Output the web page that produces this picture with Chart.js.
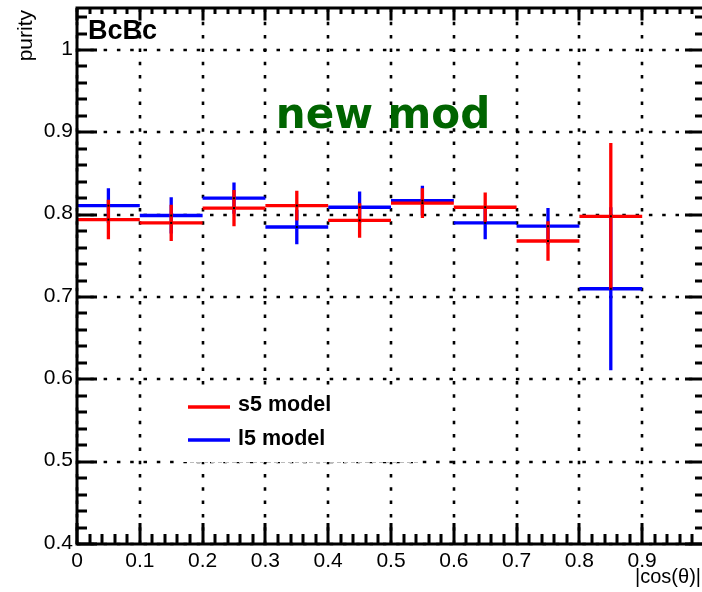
<!DOCTYPE html>
<html>
<head>
<meta charset="utf-8">
<script src="https://cdn.jsdelivr.net/npm/chart.js@4/dist/chart.umd.min.js"></script>
<style>
  html, body { margin: 0; padding: 0; background: #fff; overflow: hidden; }
  #wrap { width: 702px; height: 592px; overflow: hidden; }
</style>
</head>
<body>
<div id="wrap"><canvas id="purity-chart" width="708" height="592"></canvas></div>
<script>
/*
 * Bins of |cos(theta)| and the purity in each bin
 */
const binLow = [0, 0.1, 0.2, 0.3, 0.4, 0.5, 0.6, 0.7, 0.8]
const binHigh = [0.1, 0.2, 0.3, 0.4, 0.5, 0.6, 0.7, 0.8, 0.9]

const s5Purity = [0.794, 0.790, 0.808, 0.811, 0.793, 0.814, 0.809, 0.768, 0.798]
const s5Error = [0.024, 0.022, 0.022, 0.018, 0.021, 0.018, 0.018, 0.024, 0.089]
const l5Purity = [0.811, 0.799, 0.820, 0.785, 0.809, 0.817, 0.790, 0.786, 0.710]
const l5Error = [0.021, 0.022, 0.019, 0.021, 0.019, 0.018, 0.020, 0.022, 0.099]

// the "1" label of the x axis falls outside the picture
const xTickValues = [0, 0.1, 0.2, 0.3, 0.4, 0.5, 0.6, 0.7, 0.8, 0.9]
const xTickLabels = ['0', '0.1', '0.2', '0.3', '0.4', '0.5', '0.6', '0.7', '0.8', '0.9']
const yTickValues = [0.4, 0.5, 0.6, 0.7, 0.8, 0.9, 1]
const yTickLabels = ['0.4', '0.5', '0.6', '0.7', '0.8', '0.9', '1']

const seriesNames = ['s5 model', 'l5 model']
const seriesColors = ['#ff0000', '#0000ff']

const toPoints = (vals, errs) => vals.map((v, i) => ({
  x: (binLow[i] + binHigh[i]) / 2, y: v, xMin: binLow[i], xMax: binHigh[i], err: errs[i]
}))

/*
 * Dotted grid at every major tick
 */
const gridPlugin = {
  id: 'grid',
  beforeDatasetsDraw(chart) {
    const ctx = chart.ctx
    const a = chart.chartArea
    const x = chart.scales.x, y = chart.scales.y
    ctx.save()
    ctx.strokeStyle = '#000'
    ctx.lineWidth = 2.6
    ctx.setLineDash([3.5, 9.8])
    xTickValues.concat([1]).forEach(v => {
      const px = Math.round(x.getPixelForValue(v))
      ctx.beginPath(); ctx.moveTo(px, a.bottom); ctx.lineTo(px, a.top); ctx.stroke()
    })
    yTickValues.forEach(v => {
      const py = Math.round(y.getPixelForValue(v))
      ctx.beginPath(); ctx.moveTo(a.left, py); ctx.lineTo(a.right, py); ctx.stroke()
    })
    ctx.restore()

    // white legend box sits over the grid
    ctx.save()
    ctx.fillStyle = '#fff'
    ctx.fillRect(183, 389, 238, 73)
    ctx.strokeStyle = '#bbb'
    ctx.lineWidth = 1
    ctx.setLineDash([4, 3])
    ctx.beginPath(); ctx.moveTo(190, 462.5); ctx.lineTo(420, 462.5); ctx.stroke()
    ctx.restore()
  }
}

/*
 * Error crosses: horizontal bar over the bin, vertical bar for the error
 */
const crossPlugin = {
  id: 'crosses',
  afterDatasetsDraw(chart) {
    const ctx = chart.ctx
    const x = chart.scales.x, y = chart.scales.y
    const sets = chart.data.datasets.slice().reverse()
    ctx.save()
    ctx.lineCap = 'butt'
    sets.forEach(ds => {
      ctx.strokeStyle = ds.borderColor
      ctx.lineWidth = 3.3
      ds.data.forEach(p => {
        const py = y.getPixelForValue(p.y)
        const px = x.getPixelForValue(p.x)
        ctx.beginPath()
        ctx.moveTo(x.getPixelForValue(p.xMin), py)
        ctx.lineTo(x.getPixelForValue(p.xMax), py)
        ctx.moveTo(px, y.getPixelForValue(p.y - p.err))
        ctx.lineTo(px, y.getPixelForValue(p.y + p.err))
        ctx.stroke()
      })
    })
    ctx.fillStyle = '#000'
    sets.forEach(ds => ds.data.forEach(p => {
      ctx.fillRect(x.getPixelForValue(p.x) - 1, y.getPixelForValue(p.y) - 1, 2, 2)
    }))
    ctx.restore()
  }
}

/*
 * Frame, ticks on all four sides, labels and texts
 */
const framePlugin = {
  id: 'frame',
  afterDraw(chart) {
    const ctx = chart.ctx
    const a = chart.chartArea
    const x = chart.scales.x, y = chart.scales.y
    ctx.save()
    ctx.strokeStyle = '#000'
    ctx.lineWidth = 3
    ctx.setLineDash([])
    ctx.beginPath()
    // x ticks: 5 subdivisions per 0.1
    for (let i = 0; i <= 50; i++) {
      const px = Math.round(x.getPixelForValue(i * 0.02))
      const len = i % 5 === 0 ? 21 : 10
      ctx.moveTo(px, a.bottom); ctx.lineTo(px, a.bottom - len)
      ctx.moveTo(px, a.top); ctx.lineTo(px, a.top + len * 0.6)
    }
    // y ticks
    for (let i = 0; i <= 33; i++) {
      const v = 0.4 + i * 0.02
      if (v > y.max) break
      const py = Math.round(y.getPixelForValue(v))
      const len = i % 5 === 0 ? 20 : 10
      ctx.moveTo(a.left, py); ctx.lineTo(a.left + len, py)
      ctx.moveTo(a.right, py); ctx.lineTo(a.right - len, py)
    }
    ctx.stroke()
    ctx.strokeRect(a.left, a.top, a.right - a.left, a.bottom - a.top)

    ctx.fillStyle = '#000'
    ctx.font = '21px "Liberation Sans", Arial, sans-serif'
    ctx.textAlign = 'center'
    ctx.textBaseline = 'alphabetic'
    xTickValues.forEach((v, i) => {
      ctx.fillText(xTickLabels[i], x.getPixelForValue(v), 567)
    })
    ctx.textAlign = 'right'
    ctx.textBaseline = 'middle'
    yTickValues.forEach((v, i) => {
      ctx.fillText(yTickLabels[i], 73, y.getPixelForValue(v) - 1)
    })

    // axis titles
    ctx.font = '20px "Liberation Sans", Arial, sans-serif'
    ctx.textAlign = 'right'
    ctx.textBaseline = 'alphabetic'
    ctx.fillText('|cos(θ)|', 701, 583)
    ctx.save()
    ctx.translate(32, 10)
    ctx.rotate(-Math.PI / 2)
    ctx.font = '21px "Liberation Sans", Arial, sans-serif'
    ctx.textAlign = 'right'
    ctx.fillText('purity', 0, 0)
    ctx.restore()

    // labels in the pad
    ctx.textAlign = 'left'
    ctx.font = 'bold 27px "Liberation Sans", Arial, sans-serif'
    ctx.fillText('BcBc', 88, 39)
    ctx.fillStyle = '#006400'
    ctx.font = 'bold 42px "DejaVu Sans", sans-serif'
    ctx.textAlign = 'center'
    ctx.fillText('new mod', 383, 128)

    // legend
    ctx.textAlign = 'left'
    ctx.font = 'bold 21.5px "Liberation Sans", Arial, sans-serif'
    const rows = [407, 440]
    chart.data.datasets.forEach((ds, i) => {
      ctx.strokeStyle = ds.borderColor
      ctx.lineWidth = 3.3
      ctx.beginPath(); ctx.moveTo(188, rows[i]); ctx.lineTo(230, rows[i]); ctx.stroke()
      ctx.fillStyle = '#000'
      ctx.fillText(ds.label, 238, rows[i] + 4 + i)
    })
    ctx.restore()
  }
}

const ctx = document.getElementById('purity-chart').getContext('2d')

const purityChart = new Chart(ctx, {
  type: 'scatter',
  data: {
    datasets: [{
      label: seriesNames[0],
      data: toPoints(s5Purity, s5Error),
      borderColor: seriesColors[0],
      backgroundColor: seriesColors[0],
      pointRadius: 0
    }, {
      label: seriesNames[1],
      data: toPoints(l5Purity, l5Error),
      borderColor: seriesColors[1],
      backgroundColor: seriesColors[1],
      pointRadius: 0
    }]
  },
  options: {
    responsive: false,
    animation: false,
    devicePixelRatio: 1,
    layout: { padding: { left: 77, top: 8, right: 3, bottom: 48 } },
    plugins: { legend: { display: false }, tooltip: { enabled: false } },
    scales: {
      x: { type: 'linear', min: 0, max: 1, display: false },
      y: { type: 'linear', min: 0.4, max: 1.051, display: false }
    }
  },
  plugins: [gridPlugin, crossPlugin, framePlugin]
})
</script>
</body>
</html>
